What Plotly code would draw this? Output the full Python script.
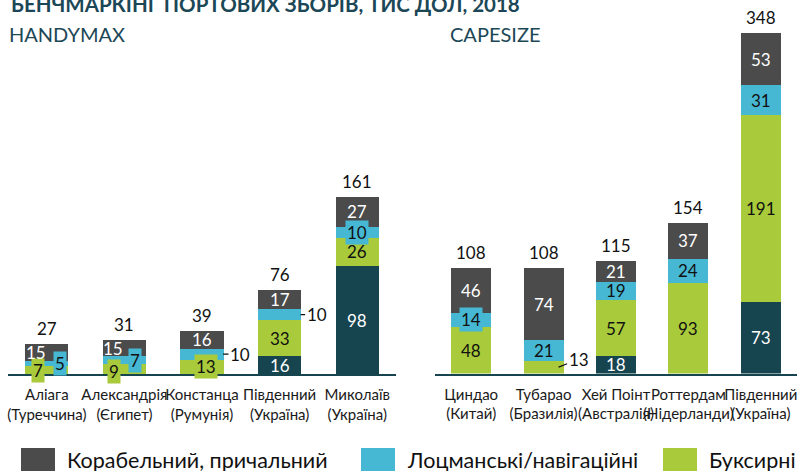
import plotly.graph_objects as go

# ---- data (thousand USD, 2018) ----
hm_ports = ["Аліага<br>(Туреччина)", "Александрія<br>(Єгипет)", "Констанца<br>(Румунія)",
            "Південний<br>(Україна)", "Миколаїв<br>(Україна)"]
hm_canal = [0, 0, 0, 16, 98]
hm_tug = [7, 9, 13, 33, 26]
hm_pilot = [5, 7, 10, 10, 10]
hm_ship = [15, 15, 16, 17, 27]

cs_ports = ["Циндао<br>(Китай)", "Тубарао<br>(Бразилія)", "Хей Поінт<br>(Австралія)",
            "Роттердам<br>(Нідерланди)", "Південний<br>(Україна)"]
cs_canal = [0, 0, 18, 0, 73]
cs_tug = [48, 13, 57, 93, 191]
cs_pilot = [14, 21, 19, 24, 31]
cs_ship = [46, 74, 21, 37, 53]

legend_names = ["Корабельний, причальний", "Лоцманські/навігаційні", "Буксирні"]

# ---- styling ----
W, H = 797, 471
FONT = "Lato"
C_CANAL = "#16444f"
C_TUG = "#a9ca3a"
C_PILOT = "#47b8d4"
C_SHIP = "#4b4b4b"
C_TITLE = "#1b4756"
DARK = "#111111"
BAR_W = 0.555
LBL = 17


def px_x(p):
    return p / W


def px_y(p):
    return 1 - p / H


fig = go.Figure()
annotations = []

# per-label tweaks: (segment index, series key) -> options
hm_special = {
    (0, "ship"): dict(xshift=-11),
    (0, "pilot"): dict(xshift=13, box=True),
    (0, "tug"): dict(xshift=-9, box=True),
    (1, "ship"): dict(xshift=-11),
    (1, "pilot"): dict(xshift=11, box=True),
    (1, "tug"): dict(xshift=-10, yshift=-2, box=True),
    (2, "tug"): dict(xshift=4, box=True),
    (2, "pilot"): dict(leader=(21, 17, 0)),
    (3, "pilot"): dict(leader=(21, 16, 0)),
    (4, "pilot"): dict(box=True),
}
cs_special = {
    (0, "pilot"): dict(box=True),
    (1, "tug"): dict(leader=(15, 20, -8)),
}


def add_panel(xa, ya, cats, canal, tug, pilot, ship, special):
    series = [
        ("canal", "Канальний", canal, C_CANAL, "white"),
        ("tug", legend_names[2], tug, C_TUG, DARK),
        ("pilot", legend_names[1], pilot, C_PILOT, DARK),
        ("ship", legend_names[0], ship, C_SHIP, "white"),
    ]
    base = [0] * len(cats)
    for key, name, vals, color, tcol in series:
        fig.add_trace(go.Bar(
            x=cats, y=vals, name=name, width=BAR_W, marker=dict(color=color, line=dict(width=0)),
            xaxis=xa, yaxis=ya, showlegend=False, hoverinfo="skip"))
        for i, v in enumerate(vals):
            if v == 0:
                continue
            mid = base[i] + v / 2
            opt = special.get((i, key), {})
            ann = dict(x=cats[i], y=mid, xref=xa, yref=ya, text=str(v),
                       font=dict(family=FONT, size=LBL, color=tcol),
                       showarrow=False, xshift=opt.get("xshift", 0), yshift=opt.get("yshift", 0))
            if opt.get("box"):
                ann.update(bgcolor=color, borderpad=1)
            if "leader" in opt:
                tip, ax, ay = opt["leader"]
                ann.update(showarrow=True, arrowhead=0, arrowwidth=1.3, arrowcolor="#111111",
                           xshift=tip, ax=ax, ay=ay, standoff=0, startstandoff=0,
                           font=dict(family=FONT, size=LBL, color=DARK))
            annotations.append(ann)
            base[i] += v
    for i, tot in enumerate(base):
        annotations.append(dict(x=cats[i], y=tot, xref=xa, yref=ya, text=str(tot),
                                yanchor="bottom", yshift=3, showarrow=False,
                                font=dict(family=FONT, size=LBL, color=DARK)))


add_panel("x", "y", hm_ports, hm_canal, hm_tug, hm_pilot, hm_ship, hm_special)
add_panel("x2", "y2", cs_ports, cs_canal, cs_tug, cs_pilot, cs_ship, cs_special)

axis_common = dict(type="category", showline=True, linecolor=C_CANAL, linewidth=2,
                   ticks="", showgrid=False, zeroline=False, tickangle=0,
                   tickfont=dict(family=FONT, size=15, color="#1a1a1a"), ticklabelstandoff=6)

fig.update_layout(
    width=W, height=H, margin=dict(l=0, r=0, t=0, b=0),
    paper_bgcolor="white", plot_bgcolor="white", barmode="stack",
    xaxis=dict(domain=[px_x(8), px_x(396)], range=[-0.5, 4.5], anchor="y", **axis_common),
    xaxis2=dict(domain=[px_x(435), 1], range=[-0.5, 4.5], anchor="y2", **axis_common),
    yaxis=dict(domain=[px_y(374), 1], range=[0, 374 / 1.1], visible=False, anchor="x"),
    yaxis2=dict(domain=[px_y(373.5), 1], range=[0, 373.5 / 0.978], visible=False, anchor="x2"),
    showlegend=False,
)

# headings
annotations.append(dict(x=px_x(9), y=px_y(4), xref="paper", yref="paper", xanchor="left",
                        yanchor="middle", showarrow=False,
                        text="<b>БЕНЧМАРКІНГ ПОРТОВИХ ЗБОРІВ, ТИС ДОЛ, 2018</b>",
                        font=dict(family=FONT, size=20.5, color=C_TITLE)))
annotations.append(dict(x=px_x(7), y=px_y(34), xref="paper", yref="paper", xanchor="left",
                        yanchor="middle", showarrow=False, text="HANDYMAX",
                        font=dict(family=FONT, size=20, color=C_TITLE)))
annotations.append(dict(x=px_x(448), y=px_y(34), xref="paper", yref="paper", xanchor="left",
                        yanchor="middle", showarrow=False, text="CAPESIZE",
                        font=dict(family=FONT, size=20, color=C_TITLE)))

# legend row
shapes = []
legend_items = [(legend_names[0], C_SHIP, 21), (legend_names[1], C_PILOT, 361), (legend_names[2], C_TUG, 663)]
for name, color, x0 in legend_items:
    shapes.append(dict(type="rect", xref="paper", yref="paper", x0=px_x(x0), x1=px_x(x0 + 34),
                       y0=px_y(480), y1=px_y(448), fillcolor=color, line=dict(width=0)))
    annotations.append(dict(x=px_x(x0 + 44), y=px_y(460), xref="paper", yref="paper",
                            xanchor="left", yanchor="middle", showarrow=False, text=name,
                            font=dict(family=FONT, size=21.5, color="#111111")))

fig.update_layout(annotations=annotations, shapes=shapes)
fig.write_html("out.html")
